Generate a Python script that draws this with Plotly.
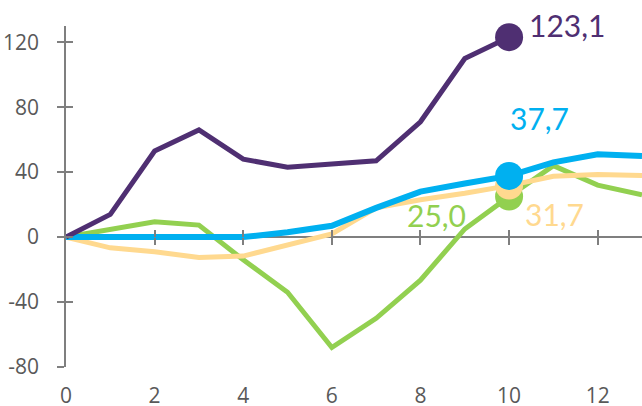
import plotly.graph_objects as go

steps = list(range(0, 14))
purple_vals = [0, 14, 53, 66, 48, 43, 45, 47, 71, 110, 123.1]
blue_vals = [0, 0, 0, 0, 0, 3, 7, 18, 28, 33, 37.7, 46, 51, 50]
yellow_vals = [0, -6.6, -9, -12.5, -11.7, -5, 2, 18, 23, 27, 31.7, 37.5, 38.5, 38]
green_vals = [0, 4.5, 9.4, 7.4, -14, -34, -68, -50, -26.5, 5, 25.0, 44, 32, 26]
end_x = 10
y_ticks = [-80, -40, 0, 40, 80, 120]
y_tick_labels = ["-80", "-40", "0", "40", "80", "120"]
x_ticks = [0, 2, 4, 6, 8, 10, 12]
x_tick_labels = ["0", "2", "4", "6", "8", "10", "12"]
y_range = [-80, 130]
x_range = [0, 13]

C_PURPLE = "#4F2F72"
C_BLUE = "#00B0F0"
C_YELLOW = "#FFD98F"
C_GREEN = "#92D050"
GRAY = "#7F7F7F"
TXT = "#595959"

def fmt(v):
    return f"{v:.1f}".replace(".", ",")

series = [
    ("green", green_vals, C_GREEN, 5),
    ("yellow", yellow_vals, C_YELLOW, 5),
    ("blue", blue_vals, C_BLUE, 6),
    ("purple", purple_vals, C_PURPLE, 5),
]

fig = go.Figure()

# invisible helper traces so the overlay axes are drawn
fig.add_trace(go.Scatter(x=steps[:1], y=blue_vals[:1], xaxis="x2", yaxis="y2",
                         mode="markers", marker=dict(opacity=0), hoverinfo="skip", showlegend=False))
fig.add_trace(go.Scatter(x=steps[:1], y=blue_vals[:1], xaxis="x3", yaxis="y",
                         mode="markers", marker=dict(opacity=0), hoverinfo="skip", showlegend=False))

for name, vals, col, w in series:
    fig.add_trace(go.Scatter(x=steps[:len(vals)], y=vals, mode="lines",
                             line=dict(color=col, width=w), showlegend=False,
                             cliponaxis=True))
for name, vals, col, w in series:
    fig.add_trace(go.Scatter(x=[end_x], y=[vals[end_x]], mode="markers",
                             marker=dict(color=col, size=28), showlegend=False,
                             cliponaxis=False))

label_font = "Lato"
ann = [
    (purple_vals, C_PURPLE, "left", 18, 12),
    (blue_vals, C_BLUE, "center", 30, 58),
    (green_vals, C_GREEN, "center", -73, -18),
    (yellow_vals, C_YELLOW, "center", 45, -28),
]
for vals, col, anchor, xs, ys in ann:
    fig.add_annotation(x=end_x, y=vals[end_x], text=fmt(vals[end_x]), showarrow=False,
                       xanchor=anchor, yanchor="middle", xshift=xs, yshift=ys,
                       font=dict(family=label_font, size=30, color=col))

zero_pos = (0 - y_range[0]) / (y_range[1] - y_range[0])

fig.update_layout(
    width=642, height=406,
    margin=dict(l=66, r=0, t=26, b=39, autoexpand=False),
    paper_bgcolor="white", plot_bgcolor="white",
    font=dict(family="Open Sans", size=21, color=TXT),
    xaxis=dict(range=x_range, tickvals=x_ticks, ticktext=x_tick_labels,
               showline=False, showgrid=False,
               zeroline=False, ticks="", ticklabelstandoff=14,
               tickfont=dict(family="Open Sans", size=21, color=TXT)),
    xaxis2=dict(range=x_range, overlaying="x", anchor="free", position=zero_pos,
                tickvals=x_ticks[1:], ticks="outside", ticklen=7, tickwidth=1.5,
                tickcolor=GRAY, showticklabels=False, showline=False,
                showgrid=False, zeroline=False),
    xaxis3=dict(range=x_range, overlaying="x", anchor="free", position=zero_pos,
                tickvals=x_ticks[1:], ticks="inside", ticklen=7, tickwidth=1.5,
                tickcolor=GRAY, showticklabels=False, showline=False,
                showgrid=False, zeroline=False),
    yaxis=dict(range=y_range, tickvals=y_ticks, ticktext=y_tick_labels,
               showline=True, linecolor=GRAY,
               linewidth=1.5, ticks="outside", ticklen=7, tickwidth=1.5,
               tickcolor=GRAY, showgrid=False, zeroline=True, zerolinecolor=GRAY,
               zerolinewidth=1.5, ticklabelstandoff=14,
               tickfont=dict(family="Open Sans", size=21, color=TXT)),
    yaxis2=dict(range=y_range, overlaying="y", anchor="x", side="left",
                tickvals=y_ticks, ticks="inside", ticklen=7, tickwidth=1.5,
                tickcolor=GRAY, showticklabels=False, showline=False,
                showgrid=False, zeroline=False),
)

fig.write_html(
    "out.html",
    config={"displayModeBar": False},
    post_script="document.body.style.margin='0px';document.body.style.overflow='hidden';",
)
